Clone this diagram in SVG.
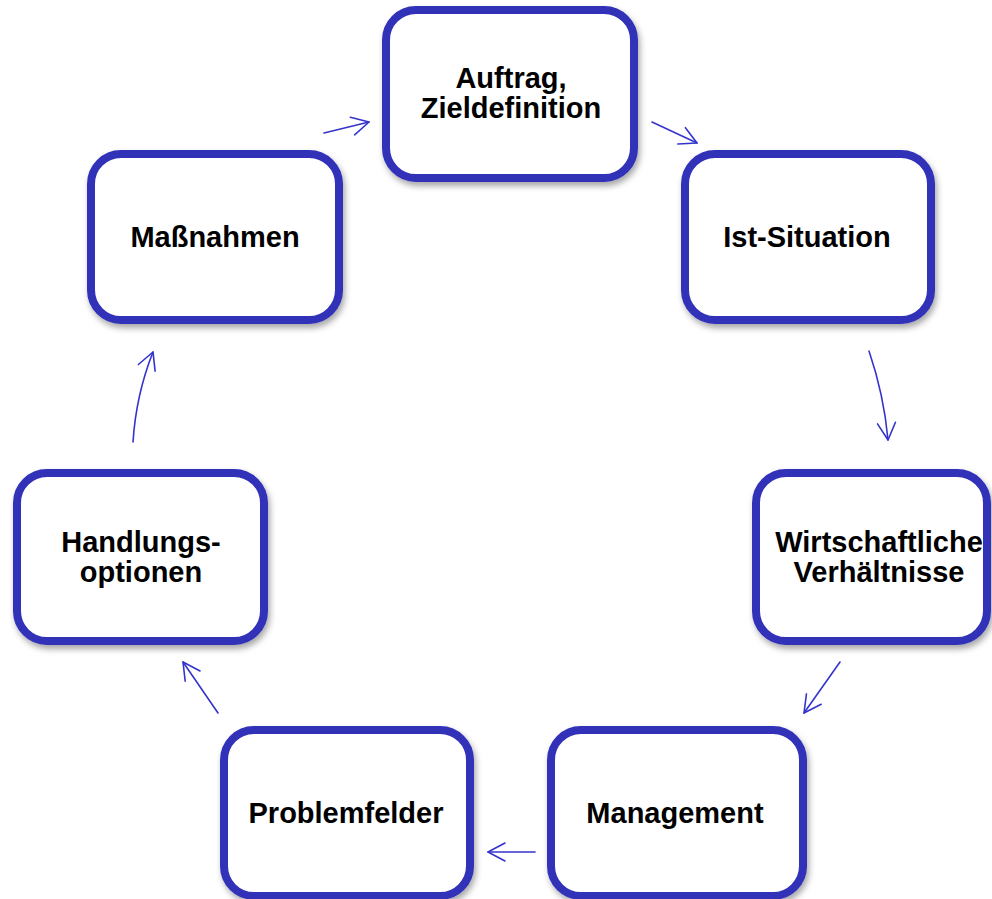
<svg xmlns="http://www.w3.org/2000/svg" width="992" height="899" viewBox="0 0 992 899">
  <style>
    .box { fill: #ffffff; stroke: #3030b8; stroke-width: 8; filter: url(#shadow); }
    .lbl { font-family: "Liberation Sans", Arial, sans-serif; font-weight: bold; font-size: 29px; fill: #000000; text-anchor: middle; }
    .conn { fill: none; stroke: #3434cc; stroke-width: 1.6; stroke-linecap: round; marker-end: url(#arrow); }
  </style>
  <defs>
    <filter id="shadow" x="-10%" y="-10%" width="125%" height="130%">
      <feDropShadow dx="2" dy="4" stdDeviation="3" flood-color="#000000" flood-opacity="0.35"/>
    </filter>
    <marker id="arrow" markerUnits="userSpaceOnUse" markerWidth="24" markerHeight="24" viewBox="-20 -12 24 24" refX="0" refY="0" orient="auto">
      <path d="M-17,-9 L0,0 L-17,9" fill="none" stroke="#3434cc" stroke-width="1.6" stroke-linecap="round" stroke-linejoin="round"/>
    </marker>
  </defs>
  <rect width="992" height="899" fill="#ffffff"/>

  <g id="connectors">
    <path class="conn" d="M652,122 L697,143"/>
    <path class="conn" d="M869,351 Q884,395 888,440"/>
    <path class="conn" d="M840,662 L804,713"/>
    <path class="conn" d="M535,852 L488,852"/>
    <path class="conn" d="M218,713 L183,662"/>
    <path class="conn" d="M133,442 Q136,395 153,352"/>
    <path class="conn" d="M324,133 L369,122"/>
  </g>

  <g id="node-auftrag">
    <rect class="box" x="386" y="10" width="248" height="168" rx="30"/>
    <text class="lbl" x="511" y="88">Auftrag,</text>
    <text class="lbl" x="511" y="118">Zieldefinition</text>
  </g>
  <g id="node-ist">
    <rect class="box" x="685" y="154" width="246" height="166" rx="30"/>
    <text class="lbl" x="807" y="247">Ist-Situation</text>
  </g>
  <g id="node-wirtschaft">
    <rect class="box" x="756" y="473" width="231" height="168" rx="30"/>
    <text class="lbl" x="879" y="552">Wirtschaftliche</text>
    <text class="lbl" x="879" y="582">Verhältnisse</text>
  </g>
  <g id="node-management">
    <rect class="box" x="551" y="730" width="252" height="166" rx="30"/>
    <text class="lbl" x="675" y="823">Management</text>
  </g>
  <g id="node-problemfelder">
    <rect class="box" x="224" y="730" width="246" height="166" rx="30"/>
    <text class="lbl" x="346" y="823">Problemfelder</text>
  </g>
  <g id="node-handlung">
    <rect class="box" x="17" y="473" width="247" height="168" rx="30"/>
    <text class="lbl" x="141" y="552">Handlungs-</text>
    <text class="lbl" x="141" y="582">optionen</text>
  </g>
  <g id="node-massnahmen">
    <rect class="box" x="91" y="154" width="248" height="166" rx="30"/>
    <text class="lbl" x="215" y="247">Maßnahmen</text>
  </g>
</svg>
